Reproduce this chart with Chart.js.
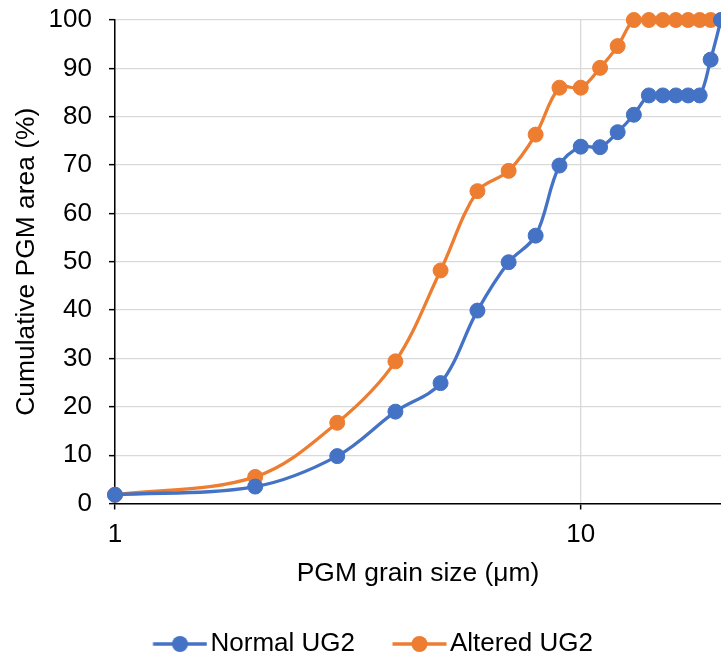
<!DOCTYPE html>
<html>
<head>
<meta charset="utf-8">
<script src="https://cdn.jsdelivr.net/npm/chart.js@4/dist/chart.umd.min.js"></script>
<style>
    html, body { margin: 0; padding: 0; background: #fff; }
    #wrap { width: 721px; height: 657px; }
</style>
</head>
<body>
<div id="wrap"><canvas id="grainChart" width="721" height="657"></canvas></div>
<script>
// PGM grain size classes (µm) and cumulative area (%)
const grainSizes = [1, 2, 3, 4, 5, 6, 7, 8, 9, 10, 11, 12, 13, 14, 15, 16, 17, 18, 19, 20];
const normalUG2 = [1.8, 3.5, 9.8, 19.0, 24.9, 39.9, 49.9, 55.4, 69.9, 73.8, 73.7, 76.8, 80.4, 84.4, 84.4, 84.4, 84.4, 84.4, 91.8, 100];
const alteredUG2 = [1.8, 5.5, 16.7, 29.4, 48.2, 64.6, 68.8, 76.3, 86.0, 86.0, 90.1, 94.6, 100, 100, 100, 100, 100, 100, 100, 100];
const xTicks = [1, 10];
const seriesNames = ['Normal UG2', 'Altered UG2'];
const seriesColors = ['#4472C4', '#ED7D31'];

const fontFamily = '"Liberation Sans", Arial, sans-serif';

// legend marker: short line with a dot in the middle
function legendIcon(color) {
    const c = document.createElement('canvas');
    c.width = 102;
    c.height = 22;
    const g = c.getContext('2d');
    g.strokeStyle = color;
    g.lineWidth = 3.3;
    g.beginPath();
    g.moveTo(47.5, 11);
    g.lineTo(101.5, 11);
    g.stroke();
    g.fillStyle = color;
    g.beginPath();
    g.arc(74.5, 11, 8, 0, Math.PI * 2);
    g.fill();
    return c;
}
const legendIcons = seriesColors.map(legendIcon);

function toPoints(values) {
    return grainSizes.map((s, i) => ({ x: s, y: values[i] }));
}

const ctx = document.getElementById('grainChart').getContext('2d');
new Chart(ctx, {
    type: 'line',
    data: {
        datasets: [normalUG2, alteredUG2].map((values, i) => ({
            label: seriesNames[i],
            data: toPoints(values),
            borderColor: seriesColors[i],
            backgroundColor: seriesColors[i],
            pointBackgroundColor: seriesColors[i],
            pointBorderColor: seriesColors[i],
            borderWidth: 3.3,
            pointRadius: 7.5,
            pointBorderWidth: 1,
            tension: 0.35,
            clip: false
        }))
    },
    options: {
        responsive: false,
        animation: false,
        layout: {
            autoPadding: false,
            padding: { left: -12.5, right: 0, top: 20, bottom: -10 }
        },
        scales: {
            x: {
                type: 'logarithmic',
                min: 1,
                max: 20,
                afterBuildTicks: (scale) => {
                    scale.ticks = xTicks.map(v => ({ value: v }));
                },
                afterFit: (scale) => {
                    scale.height = 127.5;
                    scale.paddingLeft = 0;
                    scale.paddingRight = 0;
                },
                ticks: {
                    color: '#000',
                    padding: 10,
                    maxRotation: 0,
                    autoSkip: false,
                    font: { family: fontFamily, size: 26 },
                    callback: (v) => String(v)
                },
                grid: {
                    color: '#d9d9d9',
                    lineWidth: 1.3,
                    tickColor: '#000',
                    tickLength: 6,
                    tickWidth: 1.5
                },
                border: { color: '#000', width: 1.5 },
                title: {
                    display: true,
                    text: 'PGM grain size (μm)',
                    color: '#000',
                    font: { family: fontFamily, size: 26.4 },
                    padding: { top: 0, bottom: 41 }
                }
            },
            y: {
                min: 0,
                max: 100,
                afterFit: (scale) => {
                    scale.width = 127.5;
                    scale.paddingTop = 0;
                    scale.paddingBottom = 0;
                },
                ticks: {
                    stepSize: 10,
                    color: '#000',
                    padding: 17,
                    font: { family: fontFamily, size: 26 }
                },
                grid: {
                    color: '#d9d9d9',
                    lineWidth: 1.3,
                    tickColor: '#000',
                    tickLength: 6,
                    tickWidth: 1.5
                },
                border: { color: '#000', width: 1.5 },
                title: {
                    display: true,
                    text: 'Cumulative PGM area (%)',
                    color: '#000',
                    font: { family: fontFamily, size: 26.4 },
                    padding: { top: 23, bottom: 0 }
                }
            }
        },
        plugins: {
            tooltip: { enabled: false },
            legend: {
                position: 'bottom',
                labels: {
                    usePointStyle: true,
                    pointStyleWidth: 82,
                    padding: 0,
                    color: '#000',
                    font: { family: fontFamily, size: 26 },
                    generateLabels: (chart) => {
                        const items = Chart.defaults.plugins.legend.labels.generateLabels(chart);
                        items.forEach((item, i) => { item.pointStyle = legendIcons[i]; });
                        return items;
                    }
                }
            }
        }
    }
});
</script>
</body>
</html>
